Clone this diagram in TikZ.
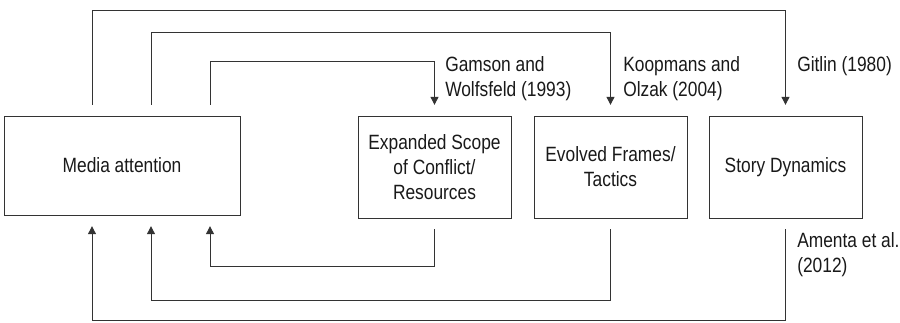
\documentclass[tikz,border=0pt]{standalone}
\usepackage{fontspec}
\setmainfont[FakeStretch=0.84]{Liberation Sans}
\usetikzlibrary{arrows.meta}
\tikzset{
  box/.style={draw=black!80, line width=0.75pt, align=center, minimum width=114.75pt, minimum height=76.5pt, inner sep=0pt},
  link/.style={draw=black!80, line width=0.75pt, shorten <=8pt},
  feed/.style={link, -{Triangle[width=6pt,length=6pt]}, shorten >=8pt},
  ref/.style={anchor=north west, align=left, inner sep=0pt}
}
\begin{document}
\begin{tikzpicture}[x=0.75pt, y=-0.75pt, font=\fontsize{15.5pt}{18.75pt}\selectfont, text=black!90]
\useasboundingbox (0,0) rectangle (900,322);
\node[box, minimum width=177pt, minimum height=74.25pt] (media) at (122,165.5) {Media attention};
\node[box] (scope) at (434.5,167) {Expanded Scope\\of Conflict/\\Resources};
\node[box] (frames) at (610.5,167) {Evolved Frames/\\Tactics};
\node[box] (story) at (785.5,167) {Story Dynamics};

\coordinate (t0) at (210,61);
\coordinate (t1) at (151,32);
\coordinate (t2) at (92,10);
\coordinate (b0) at (210,266);
\coordinate (b1) at (151,300);
\coordinate (b2) at (92,320.5);

\draw[feed] ([xshift=66pt]media.north) -- (t0) -| (scope.north);
\draw[feed] ([xshift=21.75pt]media.north) -- (t1) -| (frames.north);
\draw[feed] ([xshift=-22.5pt]media.north) -- (t2) -| (story.north);
\draw[feed] (scope.south) |- (b0) -- ([xshift=66pt]media.south);
\draw[feed] (frames.south) |- (b1) -- ([xshift=21.75pt]media.south);
\draw[feed] (story.south) |- (b2) -- ([xshift=-22.5pt]media.south);

\node[ref] (gamson) at (445,56.5) {Gamson and\\Wolfsfeld (1993)};
\node[ref] (koopmans) at (623,56.5) {Koopmans and\\Olzak (2004)};
\node[ref] (gitlin) at (797,56.5) {Gitlin (1980)};
\node[ref] (amenta) at (797,232.5) {Amenta et al.\\(2012)};

\end{tikzpicture}
\end{document}
